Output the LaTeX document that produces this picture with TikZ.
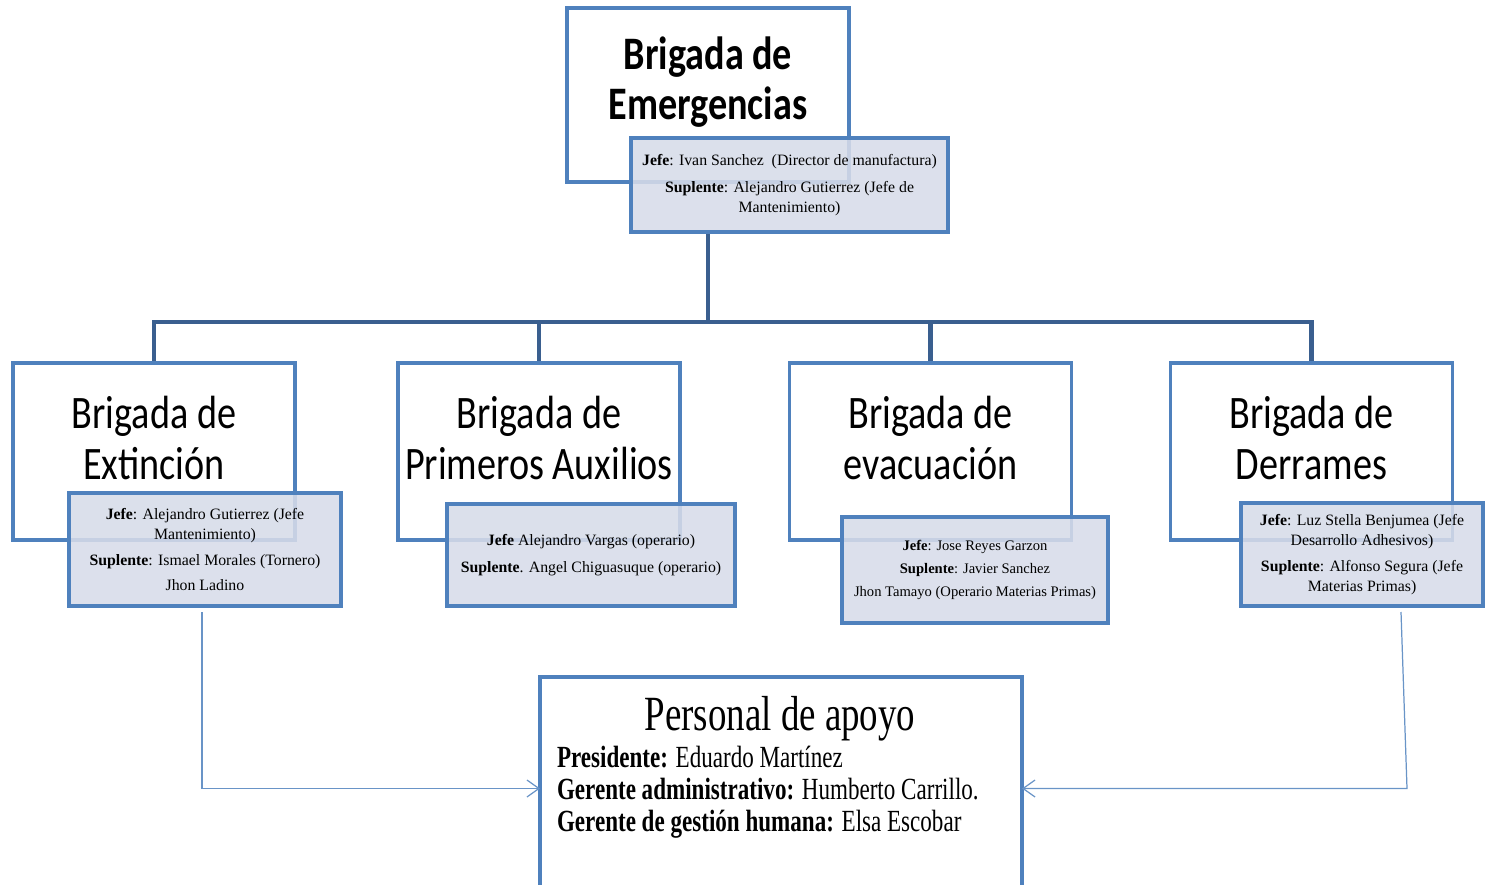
\documentclass[tikz,border=0pt]{standalone}
\usepackage{fontspec}
\setmainfont{Liberation Serif}
\newfontfamily\brigfont[FakeStretch=0.82]{Carlito}
\newfontfamily\apoyofont[FakeStretch=0.75]{Liberation Serif}
\usetikzlibrary{arrows.meta}
\usetikzlibrary{calc}
\usetikzlibrary{positioning}

\definecolor{boxblue}{HTML}{4F81BD}
\definecolor{linkblue}{HTML}{3A5F8F}
\definecolor{subfill}{HTML}{D7DCE9}

\begin{document}
\begin{tikzpicture}[>={Straight Barb[length=2.4mm,width=3.4mm]},scale=1,
    every node/.style={inner sep=0pt,outer sep=0pt}]
\tikzstyle{bbox} = [rectangle, draw=boxblue, line width=2pt, fill=white, minimum width=5.64cm, minimum height=3.54cm]
\tikzstyle{subbox} = [rectangle, draw=boxblue, line width=2pt, fill=subfill, fill opacity=0.88, text opacity=1, align=center, font=\fontsize{9}{11.4}\selectfont]
\tikzstyle{btitle} = [align=center, font=\brigfont\fontsize{26.5}{28.5}\selectfont]
\tikzstyle{conn} = [draw=linkblue, line width=2.4pt]
\tikzstyle{thin} = [->, draw=boxblue!85, line width=0.7pt]
\useasboundingbox (0,0) rectangle (29.7,-17.7);

% connectors of the tree
\coordinate (bus) at (14.16,-6.44);

% top brigade
\node[bbox, minimum height=3.48cm] (top) at (14.16,-1.90) {};
\node[btitle, font=\brigfont\bfseries\fontsize{26.5}{28.5}\selectfont] (topl) at (14.16,-1.64) {Brigada de\\Emergencias};

\draw[conn] (top.south |- 15.79,-4.64) -- (bus);
\foreach \n/\x in {ext/3.08,aux/10.78,eva/18.61,der/26.23}
  \draw[conn] (bus) -| (\x,-7.26);

\node[subbox, minimum width=6.34cm, minimum height=1.88cm] (topsub) at (15.79,-3.70)
  {\textbf{Jefe}: Ivan Sanchez\ \ (Director de manufactura)\\[4pt]
   \textbf{Suplente}: Alejandro Gutierrez (Jefe de\\ Mantenimiento)};

% brigades
\node[bbox] (ext) at (3.08,-9.03) {};
\node[btitle] (extl) at (3.08,-8.76) {Brigada de\\Extinción};
\node[bbox] (aux) at (10.78,-9.03) {};
\node[btitle] (auxl) at (10.78,-8.76) {Brigada de\\Primeros Auxilios};
\node[bbox] (eva) at (18.61,-9.03) {};
\node[btitle] (eval) at (18.61,-8.76) {Brigada de\\evacuación};
\node[bbox] (der) at (26.23,-9.03) {};
\node[btitle] (derl) at (26.23,-8.76) {Brigada de\\Derrames};

\node[subbox, minimum width=5.44cm, minimum height=2.26cm] (extsub) at (4.10,-10.99)
  {\textbf{Jefe}: Alejandro Gutierrez (Jefe\\ Mantenimiento)\\[3pt]
   \textbf{Suplente}: Ismael Morales (Tornero)\\[3pt] Jhon Ladino};
\node[subbox, minimum width=5.76cm, minimum height=2.04cm] (auxsub) at (11.82,-11.10)
  {\textbf{Jefe} Alejandro Vargas (operario)\\[4pt]
   \textbf{Suplente}. Angel Chiguasuque (operario)};
\node[subbox, minimum width=5.32cm, minimum height=2.12cm, font=\fontsize{8.3}{11}\selectfont] (evasub) at (19.50,-11.40)
  {\textbf{Jefe}: Jose Reyes Garzon\\[2pt]
   \textbf{Suplente}: Javier Sanchez\\[2pt]
   Jhon Tamayo (Operario Materias Primas)};
\node[subbox, minimum width=4.84cm, minimum height=2.06cm] (dersub) at (27.24,-11.09)
  {\textbf{Jefe}: Luz Stella Benjumea (Jefe\\ Desarrollo Adhesivos)\\[3pt]
   \textbf{Suplente}: Alfonso Segura (Jefe\\ Materias Primas)};

% support staff
\node[bbox, minimum width=9.64cm, minimum height=4.46cm] (apoyo) at (15.62,-15.77) {};
\node[font=\apoyofont\fontsize{28}{30}\selectfont] (apoyol) at (15.60,-14.38) {Personal de apoyo};
\node[anchor=west, align=left, font=\apoyofont\fontsize{17.5}{18.2}\selectfont] (apoyot) at (11.14,-15.84)
  {\textbf{Presidente:} Eduardo Martínez\\
   \textbf{Gerente administrativo:} Humberto Carrillo.\\
   \textbf{Gerente de gestión humana:} Elsa Escobar};

\coordinate (rbend) at (28.14,-15.77);
\draw[thin] ([xshift=-0.06cm,yshift=-0.12cm]extsub.south) |- (apoyo.west);
\draw[thin] ([xshift=-1.64cm,yshift=-0.12cm]dersub.south east) -- (rbend) -- (apoyo.east);
\end{tikzpicture}
\end{document}
